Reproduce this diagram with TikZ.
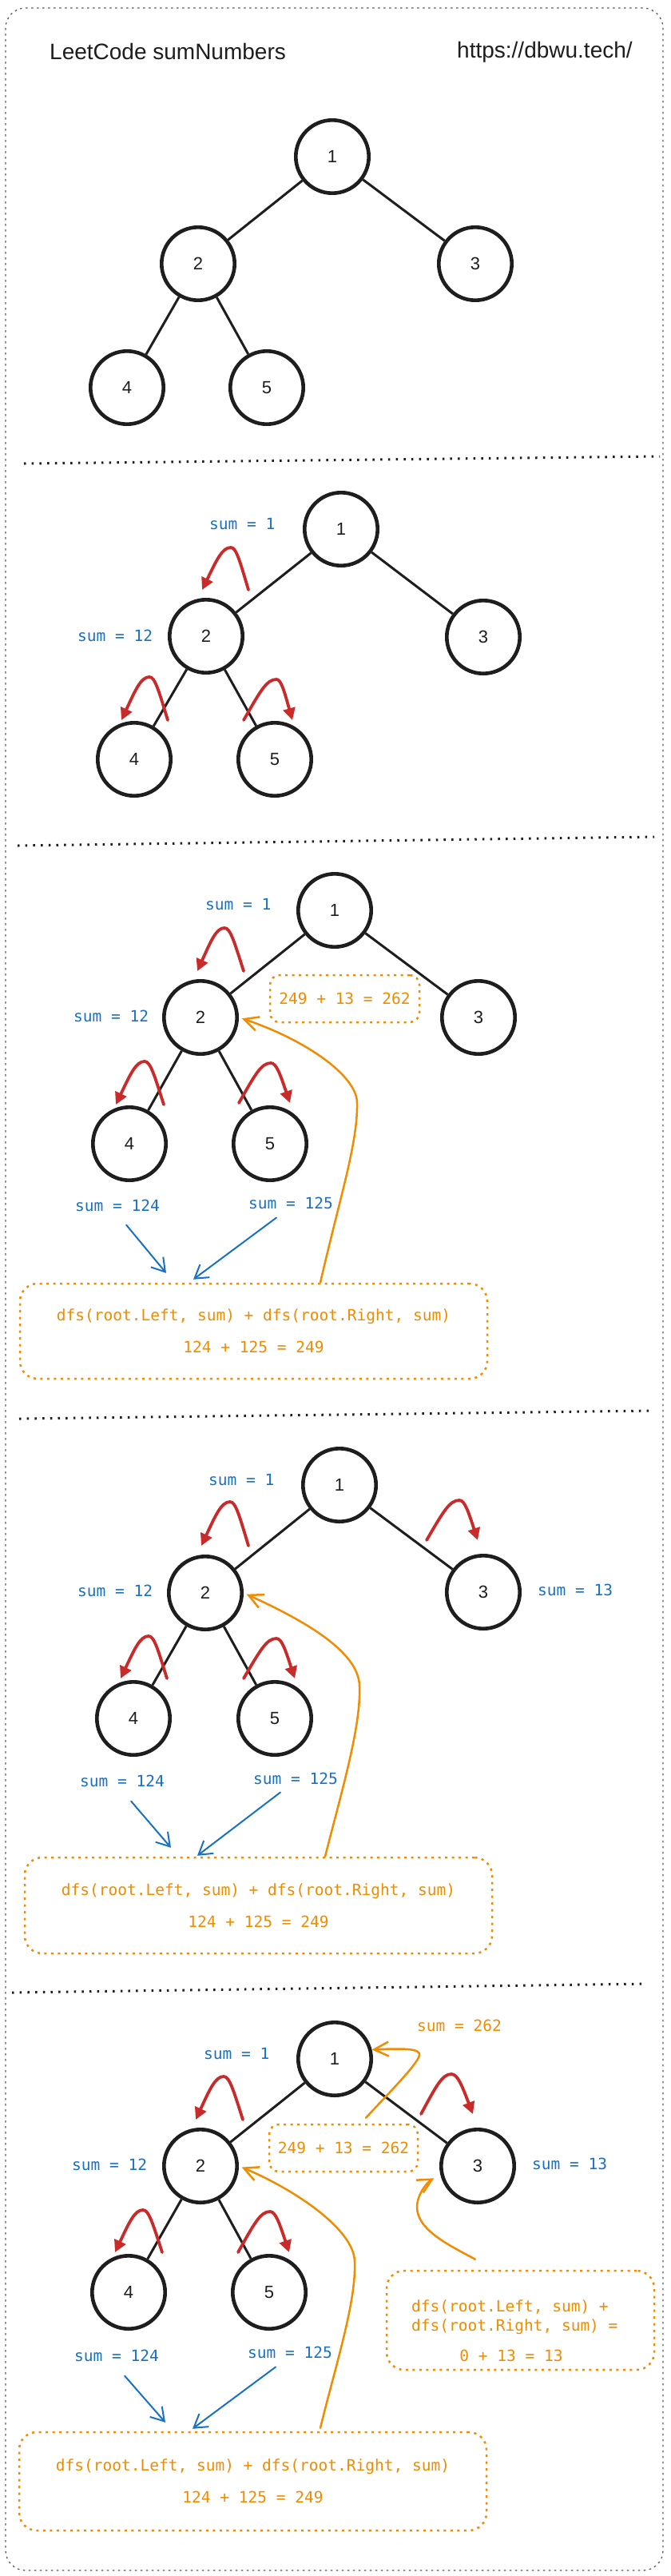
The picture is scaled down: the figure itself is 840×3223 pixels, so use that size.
\documentclass[tikz,border=0pt]{standalone}
\usepackage{fontspec}
\setmainfont{Liberation Sans}
\newfontfamily\codefont{DejaVu Sans Mono}
\newfontfamily\digitfont{Liberation Sans}
\usetikzlibrary{arrows.meta,calc}
\definecolor{ink}{HTML}{1E1E1E}
\definecolor{sblue}{HTML}{1971C2}
\definecolor{sorange}{HTML}{F08C00}
\definecolor{sred}{HTML}{C92A2A}
\definecolor{framegray}{HTML}{5C5C5C}
\tikzset{
  tnode/.style={circle,draw=ink,line width=4.6pt,minimum size=91.4pt,inner sep=0pt,
    font=\digitfont\fontsize{22}{26}\selectfont,text=ink},
  edge/.style={draw=ink,line width=3pt},
  redarr/.style={draw=sred,line width=3.8pt,line cap=round,-{Triangle[length=15pt,width=15pt]}},
  bluearr/.style={draw=sblue,line width=2pt,line cap=round,-{Straight Barb[length=16pt,width=20pt]}},
  orarr/.style={draw=sorange,line width=2.5pt,line cap=round,-{Straight Barb[length=18pt,width=18pt]}},
  sumlbl/.style={anchor=base west,inner sep=0pt,font=\codefont\fontsize{19.5}{24}\selectfont,text=sblue},
  orlbl/.style={inner sep=0pt,font=\codefont\fontsize{19.5}{24}\selectfont,text=sorange},
  obox/.style={draw=sorange,line width=2.5pt,dash pattern=on 3pt off 5.5pt,rounded corners=#1,
    inner sep=0pt,font=\codefont\fontsize{19.5}{40}\selectfont,text=sorange,align=center},
  obox/.default=20pt,
  sepline/.style={draw=ink,line width=3pt,dash pattern=on 2.5pt off 7.2pt},
  titletext/.style={anchor=base west,inner sep=0pt,font=\fontsize{28}{34}\selectfont,text=ink},
}
\newcommand\redarc[6]{%
  \draw[redarr] (#1,#2) .. controls ({#1+0.5*(#3-#1)},{#2+0.7*(#4-#2)}) and ({#3+0.3*(#1-#3)},#4) .. (#3,#4)
    .. controls ({#3+0.3*(#5-#3)},#4) and ({#5+0.5*(#3-#5)},{#6+0.7*(#4-#6)}) .. (#5,#6);}
\begin{document}
\begin{tikzpicture}[x=1pt,y=-1pt]
\useasboundingbox (0,0) rectangle (840,3223);
\fill[white] (0,0) rectangle (840,3223);
% outer frame
\draw[draw=framegray,line width=1.3pt,dash pattern=on 2.5pt off 4.5pt,rounded corners=25pt] (7,10) rectangle (830,3216);

% ---------- section 1 ----------
\node[titletext] (title) at (62,74) {LeetCode sumNumbers};
\node[titletext] (url) at (572,72) {https://dbwu.tech/};
\node[tnode] (s1n1) at (416,196) {1};
\node[tnode] (s1n2) at (248,330) {2};
\node[tnode] (s1n3) at (595,330) {3};
\node[tnode] (s1n4) at (159,485) {4};
\node[tnode] (s1n5) at (334,485) {5};
\draw[edge] (s1n1) -- (s1n2);
\draw[edge] (s1n1) -- (s1n3);
\draw[edge] (s1n2) -- (s1n4);
\draw[edge] (s1n2) -- (s1n5);
\draw[sepline] (30,580) -- (826,571);

% ---------- section 2 ----------
\node[tnode] (s2n1) at (427,662) {1};
\node[tnode] (s2n2) at (258,796) {2};
\node[tnode] (s2n3) at (605,797) {3};
\node[tnode] (s2n4) at (168,950) {4};
\node[tnode] (s2n5) at (344,950) {5};
\draw[edge] (s2n1) -- (s2n2);
\draw[edge] (s2n1) -- (s2n3);
\draw[edge] (s2n2) -- (s2n4);
\draw[edge] (s2n2) -- (s2n5);
\node[sumlbl] (s2l1) at (262,662) {sum = 1};
\node[sumlbl] (s2l12) at (97,802) {sum = 12};
\redarc{311}{738}{289}{685}{253}{738}
\redarc{210}{901}{187}{847}{152}{901}
\redarc{305}{901}{346}{850}{366}{901}
\draw[sepline] (22,1058) -- (819,1047);

% ---------- section 3 ----------
\node[tnode] (s3n1) at (419,1139) {1};
\node[tnode] (s3n2) at (251,1273) {2};
\node[tnode] (s3n3) at (599,1273) {3};
\node[tnode] (s3n4) at (162,1431) {4};
\node[tnode] (s3n5) at (338,1431) {5};
\draw[edge] (s3n1) -- (s3n2);
\draw[edge] (s3n1) -- (s3n3);
\draw[edge] (s3n2) -- (s3n4);
\draw[edge] (s3n2) -- (s3n5);
\node[sumlbl] (s3l1) at (257,1138) {sum = 1};
\node[sumlbl] (s3l12) at (92,1278) {sum = 12};
\node[sumlbl] (s3l124) at (94,1515) {sum = 124};
\node[sumlbl] (s3l125) at (311,1512) {sum = 125};
\redarc{305}{1215}{281}{1161}{247}{1215}
\redarc{205}{1382}{181}{1328}{145}{1382}
\redarc{299}{1380}{339}{1330}{363}{1380}
\node[obox=12pt,minimum width=187pt,minimum height=59pt] (s3sb) at (431.5,1249.5) {249 + 13 = 262};
\node[obox=22pt,minimum width=585pt,minimum height=119pt] (s3bb) at (317.5,1665.5)
  {dfs(root.Left, sum) + dfs(root.Right, sum)\\124 + 125 = 249};
\draw[bluearr] ([xshift=11pt,yshift=-17pt]s3l124.south) -- ([xshift=-109.5pt,yshift=12pt]s3bb.north);
\draw[bluearr] ([xshift=-18pt,yshift=-11pt]s3l125.south) -- ([xshift=-75.5pt,yshift=4pt]s3bb.north);
\draw[orarr,shorten >=4pt] ([xshift=83.5pt]s3bb.north) .. controls (425,1500) and (448,1430) .. (447,1380)
  .. controls (447,1345) and (380,1300) .. (s3n2.east);
\draw[sepline] (24,1775) -- (819,1765);

% ---------- section 4 ----------
\node[tnode] (s4n1) at (425,1858) {1};
\node[tnode] (s4n2) at (257,1993) {2};
\node[tnode] (s4n3) at (605,1992) {3};
\node[tnode] (s4n4) at (167,2150) {4};
\node[tnode] (s4n5) at (344,2150) {5};
\draw[edge] (s4n1) -- (s4n2);
\draw[edge] (s4n1) -- (s4n3);
\draw[edge] (s4n2) -- (s4n4);
\draw[edge] (s4n2) -- (s4n5);
\node[sumlbl] (s4l1) at (261,1858) {sum = 1};
\node[sumlbl] (s4l12) at (97,1997) {sum = 12};
\node[sumlbl] (s4l13) at (673,1996) {sum = 13};
\node[sumlbl] (s4l124) at (100,2235) {sum = 124};
\node[sumlbl] (s4l125) at (317,2232) {sum = 125};
\redarc{311}{1934}{288}{1879}{252}{1934}
\redarc{534}{1927}{575}{1877}{598}{1927}
\redarc{209}{2100}{186}{2047}{151}{2100}
\redarc{305}{2100}{346}{2050}{369}{2100}
\node[obox=22pt,minimum width=585pt,minimum height=120pt] (s4bb) at (323.5,2384)
  {dfs(root.Left, sum) + dfs(root.Right, sum)\\124 + 125 = 249};
\draw[bluearr] ([xshift=11pt,yshift=-18pt]s4l124.south) -- ([xshift=-109.5pt,yshift=11pt]s4bb.north);
\draw[bluearr] ([xshift=-19pt,yshift=-10pt]s4l125.south) -- ([xshift=-76.5pt,yshift=1pt]s4bb.north);
\draw[orarr,shorten >=4pt] ([xshift=83.5pt]s4bb.north) .. controls (428,2240) and (452,2160) .. (450,2110)
  .. controls (450,2065) and (375,2025) .. (s4n2.east);
\draw[sepline] (15,2493) -- (810,2482);

% ---------- section 5 ----------
\node[tnode] (s5n1) at (419,2576) {1};
\node[tnode] (s5n2) at (251,2710) {2};
\node[tnode] (s5n3) at (598,2710) {3};
\node[tnode] (s5n4) at (161,2868) {4};
\node[tnode] (s5n5) at (337,2868) {5};
\draw[edge] (s5n1) -- (s5n2);
\draw[edge] (s5n1) -- (s5n3);
\draw[edge] (s5n2) -- (s5n4);
\draw[edge] (s5n2) -- (s5n5);
\node[orlbl,anchor=base west] (s5l262) at (522,2541) {sum = 262};
\node[sumlbl] (s5l1) at (255,2576) {sum = 1};
\node[sumlbl] (s5l12) at (90,2715) {sum = 12};
\node[sumlbl] (s5l13) at (666,2714) {sum = 13};
\node[sumlbl] (s5l124) at (93,2954) {sum = 124};
\node[sumlbl] (s5l125) at (310,2950) {sum = 125};
\redarc{304}{2652}{280}{2598}{245}{2652}
\redarc{527}{2645}{565}{2595}{592}{2645}
\redarc{203}{2818}{179}{2765}{144}{2818}
\redarc{298}{2818}{338}{2767}{362}{2818}
\node[obox=12pt,minimum width=186pt,minimum height=59pt] (s5sb) at (430,2687.5) {249 + 13 = 262};
\node[obox=22pt,minimum width=335pt,minimum height=124pt] (s5rb) at (651.5,2903) {};
\node[orlbl,anchor=base west] (s5rt1) at (515,2892) {dfs(root.Left, sum) +};
\node[orlbl,anchor=base west] (s5rt2) at (515,2916) {dfs(root.Right, sum) =};
\node[orlbl,anchor=base] (s5rt3) at (640,2954) {0 + 13 = 13};
\node[obox=22pt,minimum width=585pt,minimum height=123pt] (s5bb) at (316.5,3104.5)
  {dfs(root.Left, sum) + dfs(root.Right, sum)\\124 + 125 = 249};
\draw[bluearr] ([xshift=10pt,yshift=-18pt]s5l124.south) -- ([xshift=-109.5pt,yshift=11pt]s5bb.north);
\draw[bluearr] ([xshift=-18pt,yshift=-11pt]s5l125.south) -- ([xshift=-75.5pt,yshift=3pt]s5bb.north);
\draw[orarr,shorten >=4pt] ([xshift=84.5pt,yshift=4pt]s5bb.north) .. controls (420,2960) and (446,2880) .. (444,2830)
  .. controls (444,2790) and (370,2740) .. (s5n2.east);
\draw[orarr] ([xshift=28pt,yshift=7pt]s5sb.north) .. controls (495,2610) and (520,2585) .. (525,2572)
  .. controls (528,2562) and (500,2563) .. (s5n1.14);
\draw[orarr,shorten >=9pt] ([xshift=-56.5pt,yshift=13pt]s5rb.north) .. controls (560,2808) and (523,2790) .. (522,2762)
  .. controls (522,2745) and (535,2730) .. (s5n3.193);
\end{tikzpicture}
\end{document}
